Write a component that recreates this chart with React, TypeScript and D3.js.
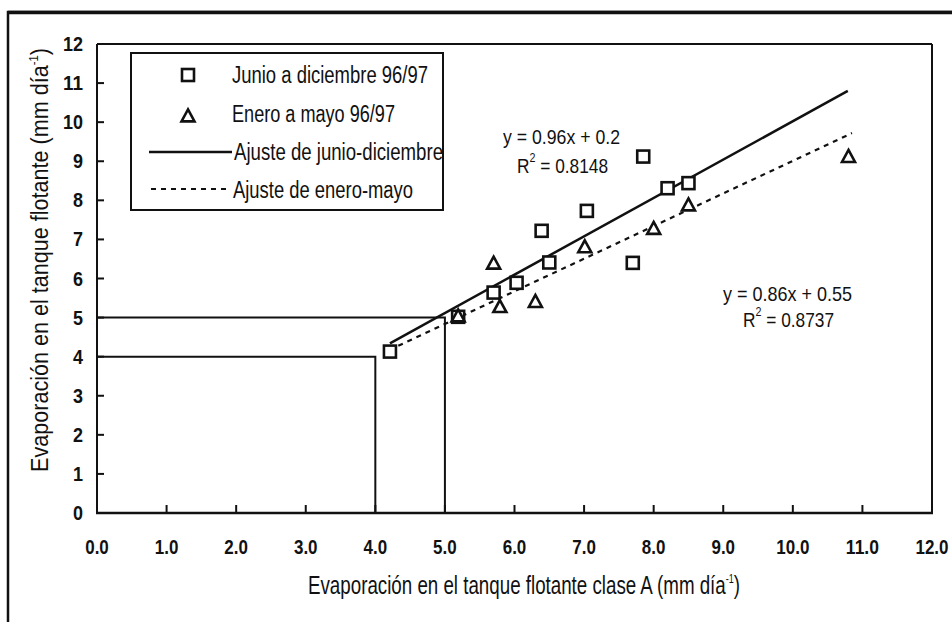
import React from "react";
import * as d3 from "d3";

// ---- data ----
const xTicks = [0, 1, 2, 3, 4, 5, 6, 7, 8, 9, 10, 11, 12];
const yTicks = [0, 1, 2, 3, 4, 5, 6, 7, 8, 9, 10, 11, 12];

const junioX = [4.21, 5.19, 5.7, 6.03, 6.39, 6.5, 7.04, 7.7, 7.85, 8.2, 8.5];
const junioY = [4.13, 5.02, 5.64, 5.89, 7.22, 6.41, 7.73, 6.4, 9.12, 8.31, 8.44];

const eneroX = [5.19, 5.7, 5.79, 6.3, 7.01, 8.0, 8.5, 10.8];
const eneroY = [5.04, 6.39, 5.28, 5.41, 6.81, 7.28, 7.88, 9.12];

const fitJunioX = [4.21, 10.79];
const fitJunioY = [4.34, 10.8];
const fitEneroX = [4.2, 10.85];
const fitEneroY = [4.17, 9.72];

const refX = [4, 5];
const refY = [4, 5];

const legendLabels = [
  "Junio a diciembre 96/97",
  "Enero a mayo 96/97",
  "Ajuste de junio-diciembre",
  "Ajuste de enero-mayo",
];
const eqJunio = ["y = 0.96x + 0.2", " = 0.8148"];
const eqEnero = ["y = 0.86x + 0.55", " = 0.8737"];
const xTitle = "Evaporación en el tanque flotante clase A (mm día";
const yTitle = "Evaporación en el tanque flotante (mm día";

const FONT = "'Liberation Sans', Arial, Helvetica, sans-serif";

export default function App() {
  const W = 952, H = 622;
  const left = 97, right = 932, top = 44, bottom = 513;
  const x = d3.scaleLinear().domain([0, 12]).range([left, right]);
  const y = d3.scaleLinear().domain([0, 12]).range([bottom, top]);
  const line = d3.line<[number, number]>().x(d => x(d[0])).y(d => y(d[1]));
  const fmt = d3.format(".1f");

  const sq = 12;
  const tri = (cx: number, cy: number, s = 13) => {
    const h = s * 0.92;
    return `M${cx},${cy - h * 0.55} L${cx + s / 2},${cy + h * 0.45} L${cx - s / 2},${cy + h * 0.45} Z`;
  };

  const fitJ: [number, number][] = fitJunioX.map((v, i) => [v, fitJunioY[i]]);
  const fitE: [number, number][] = fitEneroX.map((v, i) => [v, fitEneroY[i]]);

  const xLabLen = (s: string) => (s.length - 1) * 9.5 + 4.6;
  const yLabLen = (s: string) => s.length * 10;

  return (
    <svg width={W} height={H} style={{ position: "absolute", left: 0, top: 0, display: "block", background: "#fff" }} fontFamily={FONT}>
      <rect x={0} y={0} width={W} height={H} fill="#fff" />
      {/* outer frame */}
      <rect x={8} y={12} width={980} height={700} fill="none" stroke="#111" strokeWidth={2.5} />
      <line x1={8} x2={W} y1={12.5} y2={12.5} stroke="#111" strokeWidth={3.5} />

      {/* plot frame */}
      <line x1={left} x2={right} y1={top} y2={top} stroke="#111" strokeWidth={2} />
      <line x1={right} x2={right} y1={top} y2={bottom} stroke="#111" strokeWidth={2} />
      <line x1={left} x2={left} y1={top} y2={bottom} stroke="#111" strokeWidth={2} />
      <line x1={left - 1} x2={right + 1} y1={bottom} y2={bottom} stroke="#111" strokeWidth={2.5} />

      {/* ticks */}
      {xTicks.map(t => (
        <g key={"xt" + t}>
          <line x1={x(t)} x2={x(t)} y1={bottom} y2={bottom - 8} stroke="#111" strokeWidth={2} />
          <text x={x(t)} y={554} textAnchor="middle" fontSize={20} fontWeight="bold" fill="#111"
            textLength={xLabLen(fmt(t))} lengthAdjust="spacingAndGlyphs">{fmt(t)}</text>
        </g>
      ))}
      {yTicks.map(t => (
        <g key={"yt" + t}>
          <line x1={left} x2={left + 7} y1={y(t)} y2={y(t)} stroke="#111" strokeWidth={2} />
          <text x={83} y={y(t) + 7} textAnchor="end" fontSize={20} fontWeight="bold" fill="#111"
            textLength={yLabLen(String(t))} lengthAdjust="spacingAndGlyphs">{t}</text>
        </g>
      ))}

      {/* reference lines */}
      {refX.map((v, i) => (
        <path key={"ref" + i}
          d={`M${x(0)},${y(refY[i])} L${x(v)},${y(refY[i])} L${x(v)},${y(0)}`}
          fill="none" stroke="#111" strokeWidth={2} />
      ))}

      {/* fit lines */}
      <path d={line(fitJ) || ""} fill="none" stroke="#111" strokeWidth={2.5} />
      <path d={line(fitE) || ""} fill="none" stroke="#111" strokeWidth={2.2} strokeDasharray="5,5" />

      {/* markers */}
      {junioX.map((v, i) => (
        <rect key={"j" + i} x={x(v) - sq / 2} y={y(junioY[i]) - sq / 2} width={sq} height={sq}
          fill="#fff" stroke="#111" strokeWidth={2.6} />
      ))}
      {eneroX.map((v, i) => (
        <path key={"e" + i} d={tri(x(v), y(eneroY[i]))} fill="#fff" stroke="#111" strokeWidth={2.6} strokeLinejoin="miter" />
      ))}

      {/* legend */}
      <rect x={131} y={53} width={312} height={157} fill="#fff" stroke="#111" strokeWidth={2} />
      <rect x={188 - sq / 2} y={75 - sq / 2} width={sq} height={sq} fill="#fff" stroke="#111" strokeWidth={2.6} />
      <path d={tri(188, 116)} fill="#fff" stroke="#111" strokeWidth={2.6} />
      <line x1={149} x2={232} y1={152} y2={152} stroke="#111" strokeWidth={2.5} />
      <line x1={151} x2={230} y1={189} y2={189} stroke="#111" strokeWidth={2.2} strokeDasharray="5,5" />
      {legendLabels.map((l, i) => (
        <text key={l} x={[232, 232, 234, 233][i]} y={[83, 122, 160, 197.5][i]} fontSize={23} fill="#111"
          textLength={[196, 163, 209, 180][i]} lengthAdjust="spacingAndGlyphs">{l}</text>
      ))}

      {/* equations */}
      <text x={503} y={144} fontSize={21} fill="#111" textLength={117} lengthAdjust="spacingAndGlyphs">{eqJunio[0]}</text>
      <text x={517} y={172.5} fontSize={21} fill="#111" textLength={91} lengthAdjust="spacingAndGlyphs">
        R<tspan fontSize={13} dy={-11}>2</tspan><tspan dy={11}>{eqJunio[1]}</tspan>
      </text>

      <text x={723} y={300.5} fontSize={21} fill="#111" textLength={129} lengthAdjust="spacingAndGlyphs">{eqEnero[0]}</text>
      <text x={743} y={327} fontSize={21} fill="#111" textLength={91} lengthAdjust="spacingAndGlyphs">
        R<tspan fontSize={13} dy={-11}>2</tspan><tspan dy={11}>{eqEnero[1]}</tspan>
      </text>

      {/* axis titles */}
      <text x={524} y={594} textAnchor="middle" fontSize={25} fill="#111" textLength={432} lengthAdjust="spacingAndGlyphs">
        {xTitle}<tspan fontSize={12} dy={-11}>-1</tspan><tspan dy={11}>)</tspan>
      </text>
      <text transform="translate(48,260) rotate(-90)" x={0} y={0} textAnchor="middle" fontSize={23} fill="#111" textLength={424} lengthAdjust="spacingAndGlyphs">
        {yTitle}<tspan fontSize={12} dy={-10}>-1</tspan><tspan dy={10}>)</tspan>
      </text>
    </svg>
  );
}
